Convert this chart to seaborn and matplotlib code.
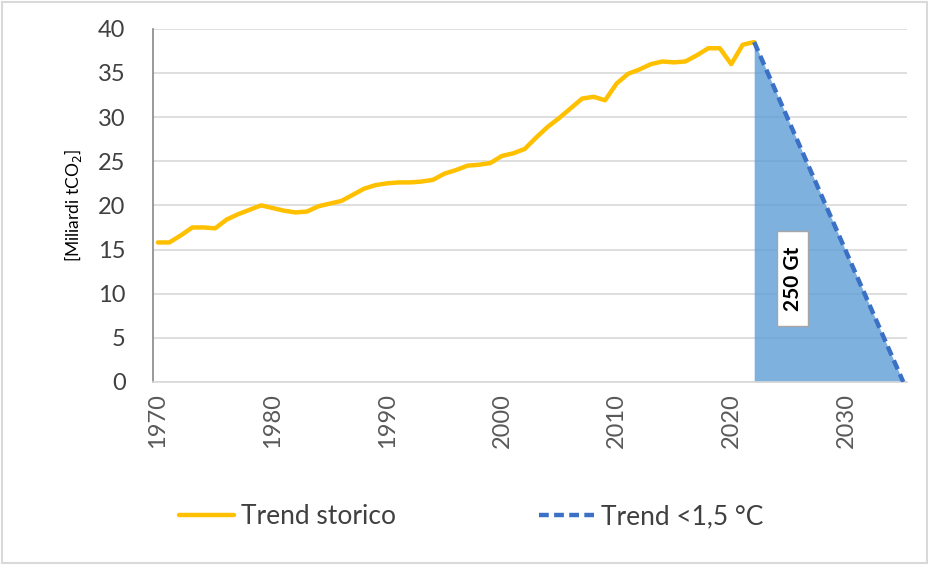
import matplotlib
matplotlib.use("Agg")
import matplotlib.pyplot as plt
import seaborn as sns
import pandas as pd

years = list(range(1970, 2023))
emissions = [15.8, 15.8, 16.6, 17.5, 17.5, 17.4, 18.4, 19.0, 19.5, 20.0,
             19.7, 19.4, 19.2, 19.3, 19.9, 20.2, 20.5, 21.2, 21.9, 22.3,
             22.5, 22.6, 22.6, 22.7, 22.9, 23.6, 24.0, 24.5, 24.6, 24.8,
             25.6, 25.9, 26.4, 27.7, 28.9, 29.9, 31.0, 32.1, 32.3, 31.9,
             33.8, 34.9, 35.4, 36.0, 36.3, 36.2, 36.3, 37.0, 37.8, 37.8,
             36.0, 38.2, 38.5]
target_years = [2022, 2035]
target_values = [38.5, 0.0]
x_ticks = [1970, 1980, 1990, 2000, 2010, 2020, 2030]
y_ticks = [0, 5, 10, 15, 20, 25, 30, 35, 40]
budget_label = "250 Gt"

hist = pd.DataFrame({"anno": years, "emissioni": emissions})
target = pd.DataFrame({"anno": target_years, "emissioni": target_values})

sns.set_theme(style="white")
plt.rcParams["font.family"] = ["Lato", "DejaVu Sans"]

fig = plt.figure(figsize=(9.29, 5.65), dpi=100)
ax = fig.add_axes([0.165, 0.324, 0.811, 0.625])

ax.fill_between(target["anno"], target["emissioni"], 0, color="#5B9BD5",
                alpha=0.78, linewidth=0, zorder=1)
sns.lineplot(data=hist, x="anno", y="emissioni", ax=ax, color="#FFC000",
             linewidth=3.2, label="Trend storico", zorder=3)
sns.lineplot(data=target, x="anno", y="emissioni", ax=ax, color="#3A70C6",
             linewidth=3.2, linestyle=(0, (2.2, 1.2)), label="Trend <1,5 °C",
             zorder=3)

ax.set_xlim(1969.6, 2035.3)
ax.set_ylim(0, 40)
ax.set_xticks(x_ticks)
ax.set_yticks(y_ticks)
ax.set_xticklabels([str(x) for x in x_ticks], rotation=90, fontsize=17,
                   color="#595959")
ax.set_yticklabels([str(y) for y in y_ticks], fontsize=17, color="#404040")
ax.tick_params(axis="y", length=0, pad=20)
ax.tick_params(axis="x", length=0, pad=8)
ax.set_xlabel("")
ax.set_ylabel("[Miliardi tCO$_2$]", fontsize=12.5, color="#000000",
              labelpad=10)
ax.yaxis.grid(True, color="#D9D9D9", linewidth=1.2, zorder=0)
ax.set_axisbelow(True)
for side in ["top", "right"]:
    ax.spines[side].set_visible(False)
ax.spines["left"].set_color("#8C8C8C")
ax.spines["bottom"].set_color("#D9D9D9")
ax.spines["bottom"].set_linewidth(1.2)

# label box for the remaining budget
ax.add_patch(plt.Rectangle((2024.0, 6.3), 2.7, 10.8, facecolor="white",
                           edgecolor="#A6A6A6", linewidth=1, zorder=4))
ax.text(2025.35, 11.7, budget_label, rotation=90, ha="center", va="center",
        fontsize=15, fontweight="bold", color="#000000", zorder=5)

handles, labels = ax.get_legend_handles_labels()
ax.get_legend().remove()
fig.legend(handles, labels, loc="center", bbox_to_anchor=(0.507, 0.085),
           ncol=2, frameon=False, fontsize=19, handlelength=2.1,
           handletextpad=0.25, columnspacing=5.4, labelcolor="#404040")

fig.patches.append(plt.Rectangle((0.002, 0.003), 0.996, 0.994,
                                 transform=fig.transFigure, fill=False,
                                 edgecolor="#D9D9D9", linewidth=1.5))

fig.savefig("out.png", dpi=100)
